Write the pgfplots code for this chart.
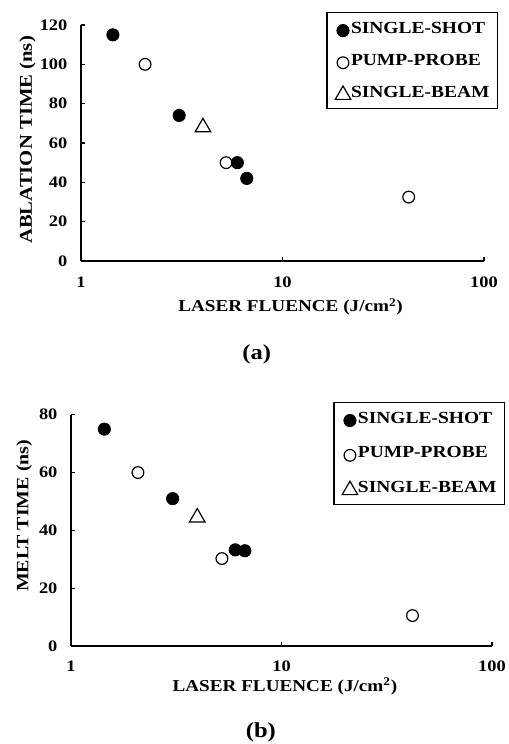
\documentclass[border=0pt]{standalone}
\usepackage{fontspec}
\setmainfont{Liberation Serif}[FakeStretch=1.15]
\usepackage{pgfplots}
\pgfplotsset{compat=1.18}
\pgfplotsset{
  legend image code/.code={\path[draw=none,fill=none] (-6pt,-5pt) rectangle (6pt,5pt);
      \draw[#1] plot coordinates {(0pt,-1.5pt)};},
}
\pgfplotsset{
  every axis/.append style={
    scale only axis, clip=false,
    xmin=1, xmax=100, ymin=0,
    axis x line=bottom, axis y line=left,
    axis line style={-, line width=1.2pt, black},
    tick align=inside, major tick length=3pt,
    tick style={line width=1pt, black},
    xminorticks=false, yminorticks=false,
    xtick={1,10,100}, xticklabels={1,10,100},
    /pgf/number format/assume math mode=true,
    ticklabel style={font=\bfseries\fontsize{12}{14}\selectfont},
    yticklabel style={inner sep=0pt, xshift=-10pt},
    label style={font=\bfseries\fontsize{12.5}{14}\selectfont},
    legend cell align=left,
    legend style={draw=black, line width=0.9pt, inner xsep=6pt, inner ysep=7pt,
      font=\bfseries\fontsize{12.7}{14}\selectfont, row sep=13pt,
      nodes={inner sep=0pt},
      /tikz/every even column/.append style={column sep=2.5pt}},
  },
}
\begin{document}
\begin{tikzpicture}
\path[use as bounding box] (0,0) rectangle (381pt,558pt);
% ---------------- panel (a)
\begin{semilogxaxis}[
  at={(60.75pt,362.25pt)}, anchor=south west,
  width=302.25pt, height=177pt,
  ymax=120, ytick={0,20,40,60,80,100,120},
  xticklabel style={inner sep=0pt, yshift=-12pt},
  xlabel={LASER FLUENCE (J/cm\textsuperscript{2})},
  ylabel={ABLATION TIME (ns)},
  xlabel style={at={(axis description cs:0.52,-0.216)}, anchor=base},
  ylabel style={at={(axis description cs:-0.122,0.513)}, anchor=base, font=\bfseries\fontsize{13.5}{15}\selectfont},
  legend style={at={(1.035,1.055)}, anchor=north east},
]
\addplot[only marks, mark=*, mark size=4.6pt, mark options={fill=black, draw=black, line width=0.6pt}]
  coordinates {(1.44,115) (3.07,74) (5.97,50) (6.65,42)};
\addlegendentry{SINGLE-SHOT}
\addplot[only marks, mark=o, mark size=4.4pt, mark options={fill=white, draw=black, line width=0.9pt}]
  coordinates {(2.08,100) (5.25,50) (42.3,32.5)};
\addlegendentry{PUMP-PROBE}
\addplot[only marks, mark=triangle, mark size=6.7pt, mark options={fill=white, draw=black, line width=0.9pt}]
  coordinates {(4.03,68)};
\addlegendentry{SINGLE-BEAM}
\node[font=\bfseries\fontsize{16}{18}\selectfont, anchor=base] at (axis description cs:0.436,-0.4165) {(a)};
\end{semilogxaxis}
% ---------------- panel (b)
\begin{semilogxaxis}[
  at={(53.25pt,73.3pt)}, anchor=south west,
  width=315.75pt, height=173.7pt,
  ymax=80, ytick={0,20,40,60,80},
  xticklabel style={inner sep=0pt, yshift=-10.5pt},
  xlabel={LASER FLUENCE (J/cm\textsuperscript{2})},
  ylabel={MELT TIME (ns)},
  xlabel style={at={(axis description cs:0.508,-0.196)}, anchor=base},
  ylabel style={at={(axis description cs:-0.101,0.563)}, anchor=base, font=\bfseries\fontsize{13}{15}\selectfont},
  legend style={at={(1.031,1.055)}, anchor=north east, row sep=15pt},
]
\addplot[only marks, mark=*, mark size=4.6pt, mark options={fill=black, draw=black, line width=0.6pt}]
  coordinates {(1.44,75) (3.04,51) (6.03,33.3) (6.70,33)};
\addlegendentry{SINGLE-SHOT}
\addplot[only marks, mark=o, mark size=4.4pt, mark options={fill=white, draw=black, line width=0.9pt}]
  coordinates {(2.08,60) (5.21,30.3) (41.9,10.6)};
\addlegendentry{PUMP-PROBE}
\addplot[only marks, mark=triangle, mark size=6.7pt, mark options={fill=white, draw=black, line width=0.9pt}]
  coordinates {(3.98,44.5)};
\addlegendentry{SINGLE-BEAM}
\node[font=\bfseries\fontsize{16}{18}\selectfont, anchor=base] at (axis description cs:0.451,-0.395) {(b)};
\end{semilogxaxis}
\end{tikzpicture}
\end{document}
